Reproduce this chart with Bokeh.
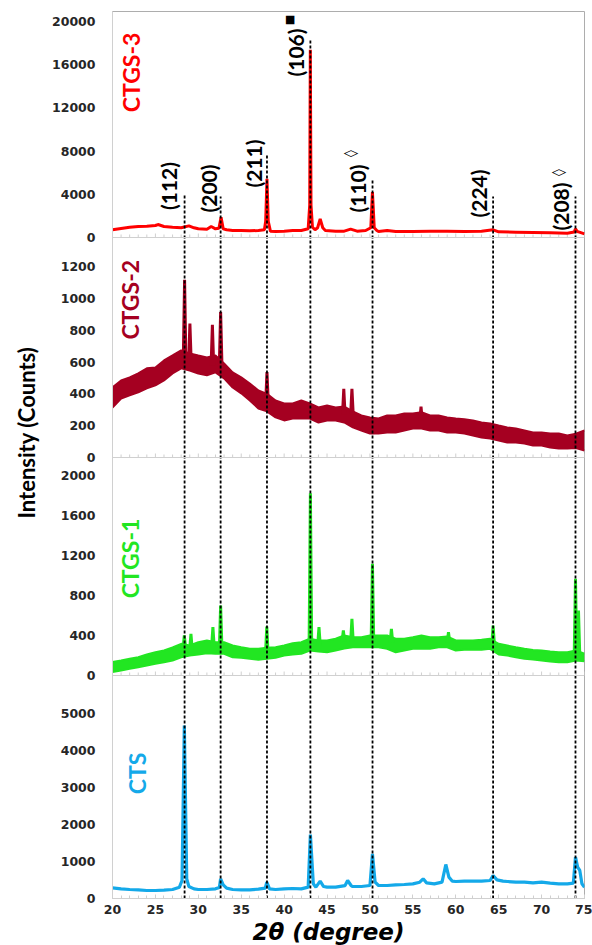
import math
from bokeh.plotting import figure
from bokeh.models import Range1d, Label, SingleIntervalTicker, FixedTicker, Span, Title
from bokeh.embed import file_html
from bokeh.resources import INLINE

# ---------------- data ----------------
X_START, X_END = 20, 75

# CTGS-3 (top panel)
ctgs3_x = [20, 21, 22, 23, 24, 25, 25.3, 26, 27, 28,
           28.9, 29.5, 30, 31, 31.5, 32, 32.4, 32.65, 32.9, 33.3,
           34, 35, 36, 37, 37.7, 37.85, 38.0, 38.15, 38.4, 39,
           40, 41, 42, 42.8, 42.98, 43.05, 43.13, 43.3, 43.6, 43.9,
           44.2, 44.5, 44.8, 46, 47, 47.75, 48.5, 49.5, 50.1, 50.29,
           50.5, 50.8, 51, 52, 53, 55, 57, 59, 61, 63,
           64.35, 65, 67, 69, 71, 73, 73.8, 73.95, 74.15, 74.4, 75]
ctgs3_y = [713, 833, 954, 1018, 1046, 1111, 1200, 1018, 954, 898,
           1080, 900, 805, 770, 1018, 805, 850, 1880, 800, 713,
           648, 648, 617, 648, 713, 1500, 5430, 1500, 585, 555,
           585, 648, 648, 805, 3000, 17380, 3000, 954, 713, 900,
           1730, 900, 648, 585, 585, 770, 585, 648, 900, 4200,
           900, 648, 555, 648, 555, 555, 585, 585, 555, 585,
           713, 525, 494, 463, 432, 401, 500, 805, 550, 494, 340]

# CTGS-2 (noisy band + peaks)
c2_x = list(range(20, 76))
c2_lo = [314, 371, 390, 409, 434, 453, 484, 528, 560, 547,
         528, 516, 535, 497, 440, 403, 358, 308, 290, 252,
         233, 245, 245, 245, 220, 233, 233, 220, 190, 170,
         151, 151, 157, 157, 170, 182, 182, 170, 170, 157,
         157, 150, 138, 126, 119, 107, 94, 94, 88, 75,
         75, 63, 57, 57, 60, 44]
c2_hi = [440, 484, 503, 528, 560, 566, 610, 641, 673, 654,
         641, 629, 641, 591, 535, 503, 465, 421, 400, 358,
         340, 340, 358, 340, 314, 327, 314, 320, 290, 264,
         252, 245, 264, 264, 277, 277, 285, 264, 264, 252,
         245, 240, 233, 220, 214, 201, 189, 182, 170, 157,
         157, 151, 151, 138, 150, 170]
c2_peak_x = [28.4, 29.02, 31.64, 32.6, 38.0, 46.95, 47.9, 55.95]
c2_peak_top = [1117, 841, 834, 914, 536, 432, 432, 320]
c2_peak_base = [620, 600, 580, 590, 345, 270, 270, 230]

# CTGS-1 (noisy band + peaks)
c1_x = list(range(20, 76))
c1_lo = [35, 50, 67, 83, 100, 117, 133, 150, 183, 200,
         210, 223, 217, 217, 183, 177, 167, 157, 167, 177,
         200, 210, 217, 250, 240, 233, 250, 270, 283, 283,
         283, 283, 267, 233, 250, 267, 267, 267, 283, 283,
         250, 257, 257, 257, 267, 210, 200, 183, 167, 160,
         150, 140, 133, 133, 150, 143]
c1_hi = [135, 150, 167, 183, 210, 233, 250, 280, 317, 300,
         333, 350, 333, 333, 300, 283, 267, 267, 277, 283,
         300, 323, 333, 367, 350, 350, 367, 400, 383, 383,
         400, 400, 400, 367, 367, 383, 400, 383, 383, 390,
         350, 350, 350, 357, 367, 317, 300, 283, 267, 255,
         250, 240, 233, 233, 250, 217]
c1_peak_x = [28.37, 29.14, 31.7, 32.6, 37.98, 43.06, 44.06, 46.9, 47.9, 50.29, 52.5, 59.15, 64.35, 73.95, 74.3]
c1_peak_top = [400, 417, 483, 700, 490, 1823, 483, 450, 567, 1117, 467, 433, 500, 967, 650]
c1_peak_base = [270, 260, 290, 280, 220, 310, 300, 340, 340, 340, 330, 330, 310, 200, 200]

# CTS (bottom panel)
cts_x = [20, 21, 22, 23, 24, 25, 26, 27, 27.8, 28.1,
         28.37, 28.65, 28.9, 29.5, 30, 31, 32, 32.45, 32.6, 32.9,
         33.3, 34, 35, 36, 37, 37.8, 37.98, 38.3, 39, 40,
         41, 42, 42.8, 43.06, 43.4, 43.7, 44.2, 44.6, 45, 46,
         47.1, 47.4, 47.8, 48, 49, 50.0, 50.29, 50.6, 51, 52,
         53, 54, 55, 55.8, 56.2, 56.6, 57.5, 58.4, 58.84, 59.2,
         59.6, 60, 61, 62, 63, 64, 64.35, 64.8, 65.5, 66,
         67, 68, 69, 70, 71, 72, 73, 73.7, 73.95, 74.2,
         74.45, 74.7, 75]
cts_y = [288, 261, 243, 234, 216, 216, 225, 243, 306, 486,
         4676, 532, 324, 261, 243, 243, 261, 300, 532, 369,
         279, 243, 234, 234, 252, 279, 441, 261, 243, 261,
         270, 261, 306, 1730, 396, 306, 468, 324, 306, 306,
         350, 486, 351, 324, 324, 351, 1207, 441, 351, 351,
         369, 378, 396, 441, 532, 423, 396, 441, 919, 577,
         468, 459, 468, 468, 468, 486, 622, 505, 468, 459,
         441, 441, 423, 441, 414, 396, 396, 414, 1117, 847,
         757, 396, 306]

# reference (dashed) lines and Miller-index labels (CTGS-3 panel units)
ref_x = [28.4, 32.6, 38.0, 43.06, 50.3, 64.35, 73.95]
ref_top = [3890, 3800, 7590, 18240, 5460, 3800, 3800]
hkl_text = ["(112)", "(200)", "(211)", "(106)", "(110)", "(224)", "(208)"]
hkl_x = [26.58, 31.14, 36.45, 41.29, 48.56, 62.64, 72.22]
hkl_y = [4770, 4540, 6850, 17130, 4540, 4074, 2870]
mark_text = ["■", "◊", "◊"]
mark_x = [40.6, 47.64, 71.87]
mark_y = [20140, 7778, 6019]
mark_size = ["11px", "14px", "14px"]

panel_names = ["CTGS-3", "CTGS-2", "CTGS-1", "CTS"]
panel_colors = ["#FF0000", "#A50021", "#22E622", "#14A9E9"]
panel_label_x = [22.1, 22.0, 22.0, 22.8]
panel_label_y = [15280, 991, 1170, 3380]
y_ticks = [[0, 4000, 8000, 12000, 16000, 20000],
           [0, 200, 400, 600, 800, 1000, 1200],
           [0, 400, 800, 1200, 1600, 2000],
           [0, 1000, 2000, 3000, 4000, 5000]]
x_tick_step = 5

# ---------------- layout (screen pixels) ----------------
W, H = 592, 945
LEFT, RIGHT, TOP, BOTTOM = 108, 8, 11, 47
FRAME_H = H - TOP - BOTTOM                 # 887
panel_zero = [661, 441, 223, 0]            # px above frame bottom of each panel's zero line
panel_scale = [216 / 20000, 191 / 1200, 200 / 2000, 185 / 5000]   # px per count
tick_font = "DejaVu Sans"
label_font = "Lato"
AX = "#D0D0D0"

p = figure(width=W, height=H, x_range=Range1d(X_START, X_END), y_range=Range1d(0, FRAME_H),
           output_backend="svg", toolbar_location=None,
           min_border_left=LEFT, min_border_right=RIGHT,
           min_border_top=TOP, min_border_bottom=BOTTOM)
p.grid.visible = False
p.outline_line_color = "#ADADAD"
p.background_fill_color = "white"
p.border_fill_color = "white"

names = []
for i in range(4):
    nm = "panel%d" % i
    names.append(nm)
    p.extra_y_ranges[nm] = Range1d(-panel_zero[i] / panel_scale[i],
                                   (FRAME_H - panel_zero[i]) / panel_scale[i])

# y axis: one axis carrying the ticks of every panel
tick_pos, overrides = [], {}
for i in range(4):
    for v in y_ticks[i]:
        pos = round(panel_zero[i] + v * panel_scale[i], 3)
        tick_pos.append(pos)
        overrides[pos] = str(v)
p.yaxis.ticker = FixedTicker(ticks=tick_pos)
p.yaxis.major_label_overrides = overrides
p.yaxis.major_tick_in = 0
p.yaxis.major_tick_out = 0
p.yaxis.minor_tick_line_color = None
p.yaxis.axis_line_color = AX
p.yaxis.major_label_standoff = 17
p.yaxis.major_label_text_font = tick_font
p.yaxis.major_label_text_font_style = "bold"
p.yaxis.major_label_text_font_size = "12.5px"
p.yaxis.major_label_text_color = "#262626"

# x axis
p.xaxis.ticker = SingleIntervalTicker(interval=x_tick_step, num_minor_ticks=5)
p.xaxis.axis_line_color = AX
p.xaxis.major_tick_line_color = AX
p.xaxis.minor_tick_line_color = AX
p.xaxis.major_tick_in = 4
p.xaxis.major_tick_out = 0
p.xaxis.minor_tick_in = 3
p.xaxis.minor_tick_out = 0
p.xaxis.major_label_text_font = tick_font
p.xaxis.major_label_text_font_style = "bold"
p.xaxis.major_label_text_font_size = "12.5px"
p.xaxis.major_label_text_color = "#262626"
p.xaxis.major_label_standoff = 6

# panel separators with small inward ticks (like the bottom axis)
minor_x = list(range(X_START, X_END + 1))
for i in range(3):
    p.add_layout(Span(location=0, dimension="width", line_color=AX, line_width=1,
                      y_range_name=names[i]))
    p.segment(x0=minor_x, x1=minor_x, y0=[panel_zero[i]] * len(minor_x),
              y1=[panel_zero[i] + (4 if x % x_tick_step == 0 else 3) for x in minor_x],
              line_color=AX, line_width=1)

# traces
p.line(ctgs3_x, ctgs3_y, line_color=panel_colors[0], line_width=3, y_range_name=names[0])

p.varea(x=c2_x, y1=c2_lo, y2=c2_hi, fill_color=panel_colors[1], y_range_name=names[1])
p.line(c2_x, c2_lo, line_color=panel_colors[1], line_width=2, y_range_name=names[1])
p.line(c2_x, c2_hi, line_color=panel_colors[1], line_width=2, y_range_name=names[1])
p.multi_line(xs=[[x - 0.15, x, x + 0.15] for x in c2_peak_x],
             ys=[[b, t, b] for t, b in zip(c2_peak_top, c2_peak_base)],
             line_color=panel_colors[1], line_width=3, y_range_name=names[1])

p.varea(x=c1_x, y1=c1_lo, y2=c1_hi, fill_color=panel_colors[2], y_range_name=names[2])
p.line(c1_x, c1_lo, line_color=panel_colors[2], line_width=2, y_range_name=names[2])
p.line(c1_x, c1_hi, line_color=panel_colors[2], line_width=2, y_range_name=names[2])
p.multi_line(xs=[[x - 0.15, x, x + 0.15] for x in c1_peak_x],
             ys=[[b, t, b] for t, b in zip(c1_peak_top, c1_peak_base)],
             line_color=panel_colors[2], line_width=3, y_range_name=names[2])

p.line(cts_x, cts_y, line_color=panel_colors[3], line_width=3.2, y_range_name=names[3])

# dashed reference lines: from the bottom of the frame up to just below each label
bottom_p1 = p.extra_y_ranges[names[0]].start
p.segment(x0=ref_x, y0=[bottom_p1] * len(ref_x), x1=ref_x, y1=ref_top,
          line_color="black", line_width=1.8, line_dash="3 2", y_range_name=names[0])

# Miller index labels
for t, x, y in zip(hkl_text, hkl_x, hkl_y):
    p.add_layout(Label(x=x, y=y, text=t, angle=math.pi / 2, y_range_name=names[0],
                       text_align="center", text_baseline="middle",
                       text_font=label_font, text_font_style="bold",
                       text_font_size="21px", text_color="black"))
for t, x, y, s in zip(mark_text, mark_x, mark_y, mark_size):
    p.add_layout(Label(x=x, y=y, text=t, angle=math.pi / 2, y_range_name=names[0],
                       text_align="center", text_baseline="middle",
                       text_font="DejaVu Sans", text_font_style="bold",
                       text_font_size=s, text_color="black"))

# panel names
for i in range(4):
    p.add_layout(Label(x=panel_label_x[i], y=panel_label_y[i], text=panel_names[i],
                       angle=math.pi / 2, y_range_name=names[i],
                       text_align="center", text_baseline="middle",
                       text_font=label_font, text_font_style="bold",
                       text_font_size="23px", text_color=panel_colors[i]))

# axis titles
p.add_layout(Title(text="Intensity (Counts)", align="left", offset=380, standoff=20,
                   text_font=label_font, text_font_style="bold",
                   text_font_size="22px", text_color="black"), "left")
p.add_layout(Title(text="2θ (degree)", align="left", offset=140, standoff=0,
                   text_font="DejaVu Sans", text_font_style="bold italic",
                   text_font_size="23px", text_color="black"), "below")

open("out.html", "w").write(file_html(p, INLINE))
